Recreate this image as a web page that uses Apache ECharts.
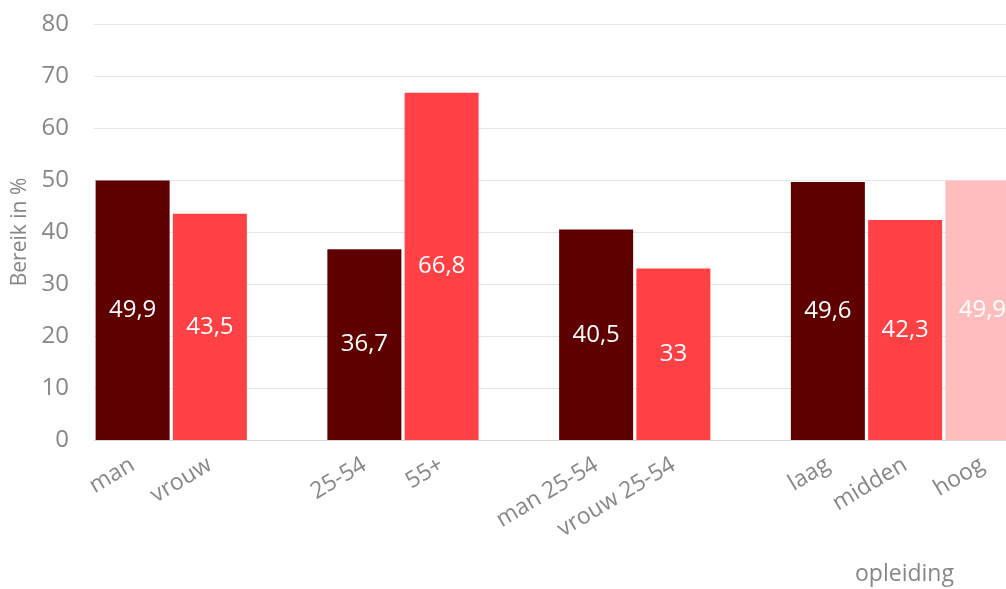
<!DOCTYPE html>
<html>
<head>
<meta charset="utf-8">
<script src="https://cdn.jsdelivr.net/npm/echarts@6/dist/echarts.min.js"></script>
<style>
html,body{margin:0;padding:0;background:#fff;}
#c{width:1006px;height:589px;}
</style>
</head>
<body>
<div id="c"></div>
<script>
var categories = ['man', 'vrouw', '', '25-54', '55+', '', 'man 25-54', 'vrouw 25-54', '', 'laag', 'midden', 'hoog'];
var values = [49.9, 43.5, null, 36.7, 66.8, null, 40.5, 33, null, 49.6, 42.3, 49.9];
var barColors = ['#5e0000', '#ff4044', null, '#5e0000', '#ff4044', null, '#5e0000', '#ff4044', null, '#5e0000', '#ff4044', '#ffbdbd'];
var yTicks = [0, 10, 20, 30, 40, 50, 60, 70, 80];
var yTitle = 'Bereik in %';
var groupTitle = 'opleiding';

var FONT = '"Open Sans", sans-serif';
var chart = echarts.init(document.getElementById('c'), null, {renderer: 'canvas'});

var dataItems = values.map(function (v, i) {
  if (v === null) return '-';
  return {value: v, itemStyle: {color: barColors[i]}};
});

chart.setOption({
  animation: false,
  backgroundColor: '#fff',
  grid: {left: 94, top: 24, width: 927, height: 416, containLabel: false, outerBoundsMode: 'none'},
  xAxis: {
    type: 'category',
    data: categories,
    axisLine: {show: true, lineStyle: {color: '#d9d9d9', width: 1}},
    axisTick: {show: false},
    axisLabel: {
      rotate: 31,
      interval: 0,
      margin: 23,
      color: '#878787',
      fontFamily: FONT,
      fontSize: 23
    }
  },
  yAxis: {
    type: 'value',
    min: yTicks[0],
    max: yTicks[yTicks.length - 1],
    interval: 10,
    name: yTitle,
    nameLocation: 'middle',
    nameGap: 61,
    nameRotate: 90,
    nameTextStyle: {color: '#878787', fontFamily: FONT, fontSize: 21},
    axisLine: {show: false},
    axisTick: {show: false},
    splitLine: {lineStyle: {color: '#e6e6e6', width: 1}},
    axisLabel: {
      margin: 25,
      color: '#878787',
      fontFamily: FONT,
      fontSize: 24
    }
  },
  series: [{
    type: 'bar',
    data: dataItems,
    barWidth: 74,
    label: {
      show: true,
      position: 'inside',
      color: '#fff',
      fontFamily: FONT,
      fontSize: 24,
      formatter: function (p) { return String(p.value).replace('.', ','); }
    }
  }],
  graphic: [{
    type: 'text',
    left: 855,
    top: 563,
    style: {text: groupTitle, fill: '#878787', font: '23px "Open Sans", sans-serif'}
  }]
});
</script>
</body>
</html>
